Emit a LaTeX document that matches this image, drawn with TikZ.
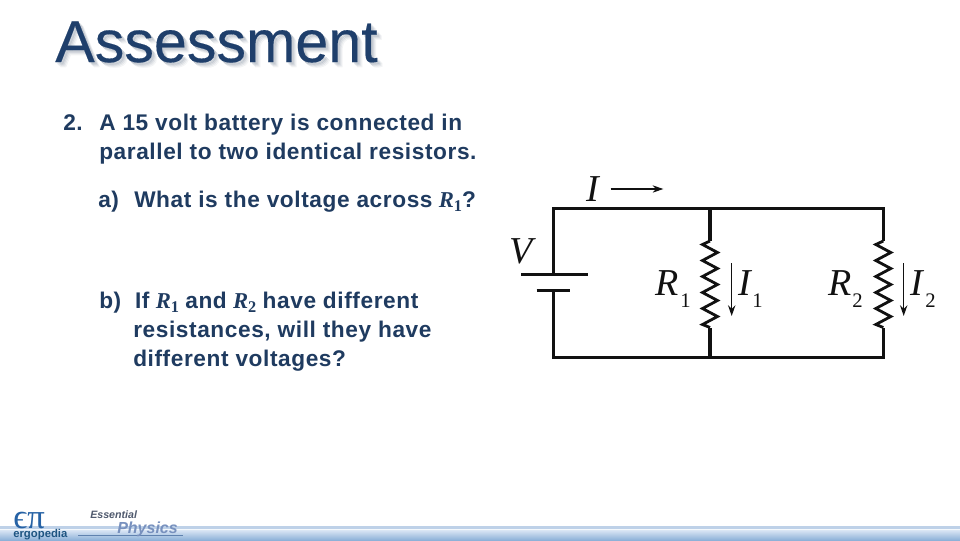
\documentclass[tikz,border=0pt]{standalone}
\usepackage{fontspec}
\setmainfont{Liberation Sans}
\newfontfamily\serifit{Liberation Serif}
\usetikzlibrary{arrows.meta}
\definecolor{titleblue}{HTML}{1F3F6B}
\definecolor{bodyblue}{HTML}{1F3B60}
\definecolor{wirecol}{HTML}{111111}
\definecolor{bandA}{RGB}{190,209,232}
\definecolor{bandB}{RGB}{244,248,252}
\definecolor{bandC}{RGB}{214,227,243}
\definecolor{bandD}{RGB}{141,177,216}
\definecolor{bandL}{RGB}{96,130,175}
\definecolor{logoE}{RGB}{38,98,165}
\definecolor{logoG}{RGB}{30,85,130}
\definecolor{logoS}{RGB}{80,90,110}
\definecolor{logoP}{RGB}{120,145,190}
\newcommand{\rvar}[2]{{\serifit\bfseries\itshape #1\raisebox{-0.22em}{\scalebox{0.72}{\upshape\bfseries #2}}}}
\newcommand{\lsp}[1]{{\addfontfeatures{LetterSpace=2.6}#1}}
\tikzset{
  bodytext/.style={anchor=base west,inner sep=0pt,text=bodyblue,font=\fontsize{17pt}{20pt}\selectfont\bfseries},
  titletext/.style={anchor=base west,inner sep=0pt,font=\fontsize{44.4pt}{50pt}\selectfont\addfontfeatures{FakeBold=0.25}},
  wire/.style={line width=2.5pt,draw=wirecol,line cap=butt,line join=miter},
  plate/.style={line width=2.5pt,draw=wirecol},
  zig/.style={line width=2.1pt,draw=wirecol,line join=miter},
  curarrow/.style={line width=0.95pt,draw=wirecol,-{Stealth[length=8pt,width=5.5pt]}},
  symb/.style={inner sep=0pt,anchor=base west,text=wirecol,font=\serifit\fontsize{28.5pt}{32pt}\selectfont\itshape},
  symbsub/.style={inner sep=0pt,anchor=base west,text=wirecol,font=\serifit\fontsize{15.5pt}{18pt}\selectfont},
}
\begin{document}
\begin{tikzpicture}[x=0.75pt,y=-0.75pt]
\useasboundingbox (0,0) rectangle (960,540);
\fill[white] (0,0) rectangle (960,540);
% footer band
\fill[bandA] (0,526) rectangle (960,528.5);
\fill[bandB] (0,528.5) rectangle (960,530.5);
\shade[top color=bandC,bottom color=bandD] (0,530.5) rectangle (960,540);
\fill[bandL] (78,534.6) rectangle (183,535.4);
% title
\foreach \o/\a in {5/0.05,4/0.07,3/0.09,2/0.11}{
  \node[titletext,text=titleblue!60!gray,opacity=\a] at (55+\o,62+\o) {Assessment};
}
\node[titletext,text=titleblue] (title) at (55,62) {Assessment};
% text
\node[bodytext] (num) at (63,130) {\lsp{2.}};
\node[bodytext] (l1) at (99,130) {\lsp{A 15 volt battery is connected in}};
\node[bodytext] (l2) at (99,159) {\lsp{parallel to two identical resistors.}};
\node[bodytext] (al) at (98,207) {\lsp{a)}};
\node[bodytext] (a1) at (134,207) {\lsp{What is the voltage across} \rvar{R}{1}\lsp{?}};
\node[bodytext] (b1) at (99,308) {\lsp{b)\ \ If} \rvar{R}{1} \lsp{and} \rvar{R}{2} \lsp{have different}};
\node[bodytext] (b2) at (133,337) {\lsp{resistances, will they have}};
\node[bodytext] (b3) at (133,366) {\lsp{different voltages?}};
% circuit coordinates
\coordinate (tl) at (553.7,208.3);
\coordinate (tm) at (710,208.3);
\coordinate (tr) at (883.3,208.3);
\coordinate (bl) at (553.7,357.3);
\coordinate (bm) at (710,357.3);
\coordinate (br) at (883.3,357.3);
\coordinate (batA) at (553.7,274.3);
\coordinate (batB) at (553.7,290.3);
\coordinate (r1t) at (710,241);
\coordinate (r1b) at (710,327.5);
\coordinate (r2t) at (883.3,241);
\coordinate (r2b) at (883.3,327.5);
\coordinate (pa1) at (521,274.3);
\coordinate (pa2) at (587.7,274.3);
\coordinate (pb1) at (536.7,290.3);
\coordinate (pb2) at (570,290.3);
\draw[wire] (batA) -- (tl) -- (tr) -- (r2t);
\draw[wire] (tm) -- (r1t);
\draw[wire] (batB) -- (bl) -- (br) -- (r2b);
\draw[wire] (bm) -- (r1b);
\draw[plate] (pa1) -- (pa2);
\draw[plate] (pb1) -- (pb2);
\foreach \n/\x in {r1/710,r2/883.3}{
  \draw[zig] (\n t) -- (\x-7.5,244.5) -- (\x+7.5,252.5) -- (\x-7.5,260.5) -- (\x+7.5,268.5) -- (\x-7.5,276.5)
    -- (\x+7.5,284.5) -- (\x-7.5,292.5) -- (\x+7.5,300.5) -- (\x-7.5,308.5) -- (\x+7.5,316.5) -- (\x-7.5,324.5) -- (\n b);
}
% labels
\node[symb] (lI) at (586,201) {I};
\node[symb] (lV) at (509,263) {V};
\node[symb] (lR1) at (655,295) {R};
\node[symbsub] (lR1s) at (680,307) {1};
\node[symb] (lI1) at (738,295) {I};
\node[symbsub] (lI1s) at (752,307) {1};
\node[symb] (lR2) at (828,295) {R};
\node[symbsub] (lR2s) at (852,307) {2};
\node[symb] (lI2) at (910,295) {I};
\node[symbsub] (lI2s) at (925,307) {2};
% current arrows
\coordinate (ia1) at (610.7,189);
\coordinate (ia2) at (663.3,189);
\coordinate (i1a) at (731.7,263);
\coordinate (i1b) at (731.7,316);
\coordinate (i2a) at (903.7,263);
\coordinate (i2b) at (903.7,316);
\draw[curarrow] (ia1) -- (ia2);
\draw[curarrow] (i1a) -- (i1b);
\draw[curarrow] (i2a) -- (i2b);
% logo
\node[inner sep=0pt,anchor=base west,text=logoE,font=\serifit\fontsize{26pt}{28pt}\selectfont] (logoA) at (13,528) {ϵπ};
\node[inner sep=0pt,anchor=base west,text=logoG,font=\fontsize{8.5pt}{9pt}\selectfont\bfseries] (logoB) at (13,537) {ergopedia};
\node[inner sep=0pt,anchor=base west,text=logoS,font=\fontsize{8pt}{9pt}\selectfont\bfseries\itshape] (logoC) at (90,518) {Essential};
\node[inner sep=0pt,anchor=base west,text=logoP,font=\fontsize{12pt}{14pt}\selectfont\bfseries\itshape] (logoD) at (117,533) {Physics};
\end{tikzpicture}
\end{document}
